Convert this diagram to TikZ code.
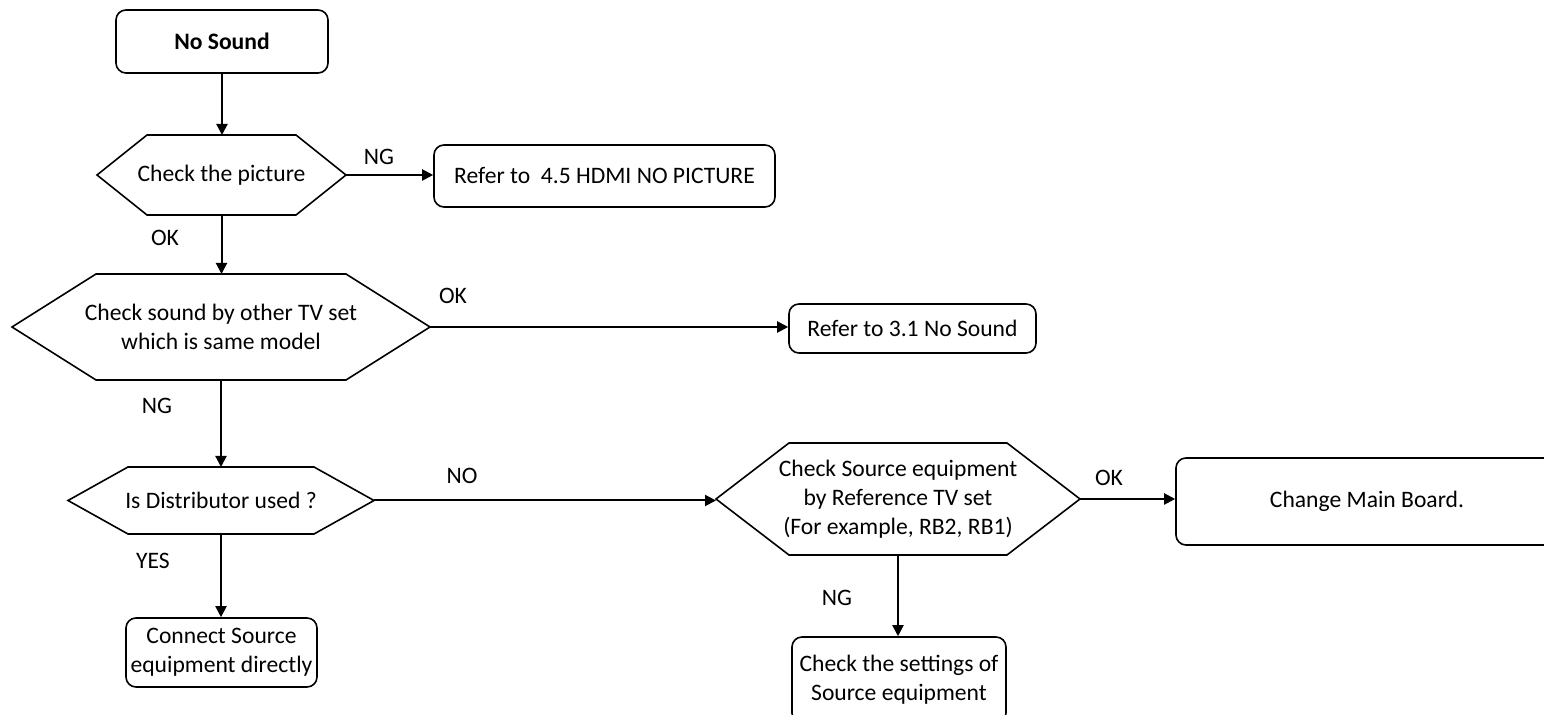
\documentclass[tikz,border=0pt]{standalone}
\usepackage{fontspec}
\setmainfont{Carlito}
\usepackage{tikz}
\usetikzlibrary{arrows.meta}

\newcommand{\chartfont}{\fontsize{11.8}{14.5}\selectfont}
% hexagon frame round a plain node: #1 node, #2 cut of the ends
\newcommand{\hexframe}[2]{%
  \draw[line width=0.8pt] (#1.west) -- ([xshift=#2]#1.north west) -- ([xshift=-#2]#1.north east)
    -- (#1.east) -- ([xshift=-#2]#1.south east) -- ([xshift=#2]#1.south west) -- cycle;}

\begin{document}
\begin{tikzpicture}[x=0.5pt,y=-0.5pt,
    every node/.style={font=\chartfont},
    stepbox/.style={draw,line width=0.8pt,rounded corners=5pt,inner sep=0pt,align=center},
    hexa/.style={inner sep=0pt,outer sep=0pt,align=center},
    flow/.style={line width=1pt,-{Triangle[length=5.5pt,width=5.5pt]}}]
  \useasboundingbox (0,0) rectangle (1544,715);
  % boxes
  \node[stepbox,minimum width=106pt,minimum height=31.5pt,font=\chartfont\bfseries] (nosound) at (222,41.5) {No Sound};
  \node[stepbox,minimum width=170.5pt,minimum height=31pt] (refhdmi) at (604.5,176) {Refer to\ \ 4.5 HDMI NO PICTURE};
  \node[stepbox,minimum width=123.5pt,minimum height=24.5pt] (refsnd) at (912.5,328.5) {Refer to 3.1 No Sound};
  \node[stepbox,minimum width=95.5pt,minimum height=34.5pt] (connect) at (221.5,652.5) {Connect Source\\equipment directly};
  \node[stepbox,minimum width=191pt,minimum height=43.5pt] (mainbd) at (1367,501.5) {Change Main Board.};
  \node[stepbox,minimum width=107pt,minimum height=43pt] (settings) at (899,680) {Check the settings of\\Source equipment};
  % decisions
  \node[hexa,minimum width=124.5pt,minimum height=40pt] (chkpic) at (221.5,175) {Check the picture};
  \node[hexa,minimum width=209pt,minimum height=53pt] (chksnd) at (221,327) {Check sound by other TV set\\which is same model};
  \node[hexa,minimum width=153pt,minimum height=33.5pt] (distr) at (221,500.5) {Is Distributor used ?};
  \node[hexa,minimum width=182pt,minimum height=56pt] (chksrc) at (898,499) {Check Source equipment\\by Reference TV set\\(For example, RB2, RB1)};
  \hexframe{chkpic}{25pt}
  \hexframe{chksnd}{42pt}
  \hexframe{distr}{30pt}
  \hexframe{chksrc}{36.5pt}
  % connectors
  \draw[flow] (nosound.south) -- (nosound.south |- chkpic.north);
  \draw[flow] (chkpic.east) -- (chkpic.east -| refhdmi.west);
  \draw[flow] (chkpic.south) -- (chkpic.south |- chksnd.north);
  \draw[flow] (chksnd.east) -- (chksnd.east -| refsnd.west);
  \draw[flow] (chksnd.south) -- (chksnd.south |- distr.north);
  \draw[flow] (distr.east) -- (distr.east -| chksrc.west);
  \draw[flow] (distr.south) -- (distr.south |- connect.north);
  \draw[flow] (chksrc.east) -- (chksrc.east -| mainbd.west);
  \draw[flow] (chksrc.south) -- (chksrc.south |- settings.north);
  % labels
  \node (ngpic) at (379,157) {NG};
  \node (okpic) at (165,238) {OK};
  \node (oksnd) at (453,296) {OK};
  \node (ngsnd) at (157,406) {NG};
  \node (nodistr) at (462,476) {NO};
  \node (yesdistr) at (153,561) {YES};
  \node (oksrc) at (1109,478) {OK};
  \node (ngsrc) at (837,598) {NG};
\end{tikzpicture}
\end{document}
